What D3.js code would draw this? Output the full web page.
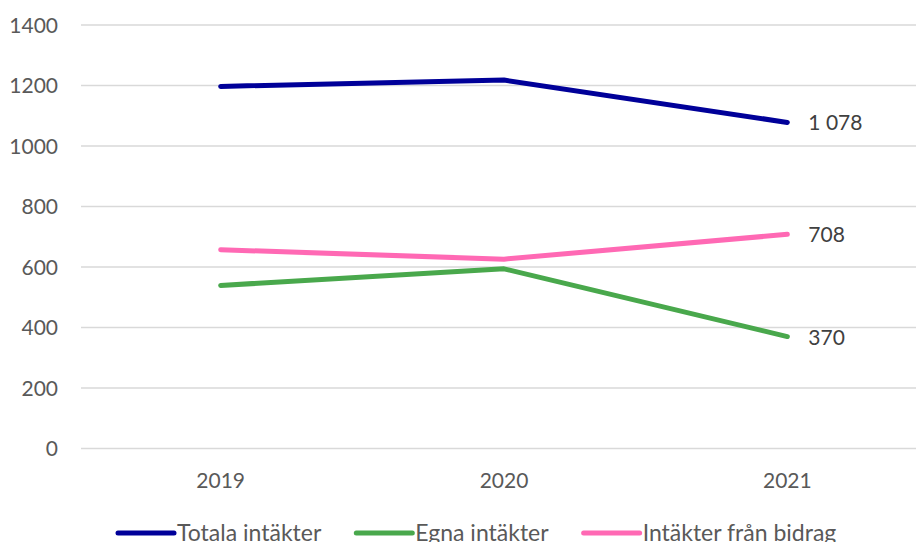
<!DOCTYPE html>
<html>
<head>
<meta charset="utf-8">
<script src="https://cdn.jsdelivr.net/npm/d3@7"></script>
<style>
  body { margin: 0; background: #fff; }
  svg { display: block; font-family: Lato, "Open Sans", sans-serif; }
</style>
</head>
<body>
<svg width="916" height="542"></svg>
<script>
const years = ["2019", "2020", "2021"];
const totala = [1197, 1218, 1078];
const egna = [539, 594, 370];
const bidrag = [657, 626, 708];
const yTicks = [0, 200, 400, 600, 800, 1000, 1200, 1400];

const series = [
  { name: "Totala intäkter", values: totala, color: "#000099" },
  { name: "Egna intäkter", values: egna, color: "#49A84C" },
  { name: "Intäkter från bidrag", values: bidrag, color: "#FF69B4" }
];

const svg = d3.select("svg");
const width = +svg.attr("width");

const x = d3.scaleBand().domain(years).range([79, 929]);
const y = d3.scaleLinear().domain([0, 1400]).range([448.5, 25]);
const cx = d => x(d) + x.bandwidth() / 2;

// gridlines
svg.append("g").selectAll("line").data(yTicks).enter()
  .append("line")
  .attr("x1", 81).attr("x2", width)
  .attr("y1", d => y(d)).attr("y2", d => y(d))
  .attr("stroke", "#d9d9d9").attr("stroke-width", 1.5);

// y labels
svg.append("g").selectAll("text").data(yTicks).enter()
  .append("text")
  .attr("x", 58).attr("y", d => y(d) + 7.5)
  .attr("text-anchor", "end")
  .attr("fill", "#595959").attr("font-size", 21)
  .text(d => d);

// x labels
svg.append("g").selectAll("text").data(years).enter()
  .append("text")
  .attr("x", d => cx(d)).attr("y", 488)
  .attr("text-anchor", "middle")
  .attr("fill", "#595959").attr("font-size", 21)
  .text(d => d);

const line = d3.line()
  .x((d, i) => cx(years[i]))
  .y(d => y(d));

svg.append("g").selectAll("path").data(series).enter()
  .append("path")
  .attr("d", d => line(d.values))
  .attr("fill", "none")
  .attr("stroke", d => d.color)
  .attr("stroke-width", 5)
  .attr("stroke-linecap", "round")
  .attr("stroke-linejoin", "round");

// end labels (Swedish thousands separator is a space)
const fmt = v => d3.format(",")(v).replace(/,/g, " ");
svg.append("g").selectAll("text").data(series).enter()
  .append("text")
  .attr("x", cx(years[2]) + 21)
  .attr("y", d => y(d.values[2]) + 8)
  .attr("fill", "#404040").attr("font-size", 21)
  .text(d => fmt(d.values[2]));

// legend
const legend = svg.append("g");
let lx = 118;
series.forEach(s => {
  legend.append("line")
    .attr("x1", lx).attr("x2", lx + 56)
    .attr("y1", 533).attr("y2", 533)
    .attr("stroke", s.color).attr("stroke-width", 5)
    .attr("stroke-linecap", "round");
  const t = legend.append("text")
    .attr("x", lx + 59).attr("y", 541)
    .attr("fill", "#595959").attr("font-size", 23)
    .text(s.name);
  lx += 59 + t.node().getComputedTextLength() + 35;
});
</script>
</body>
</html>
